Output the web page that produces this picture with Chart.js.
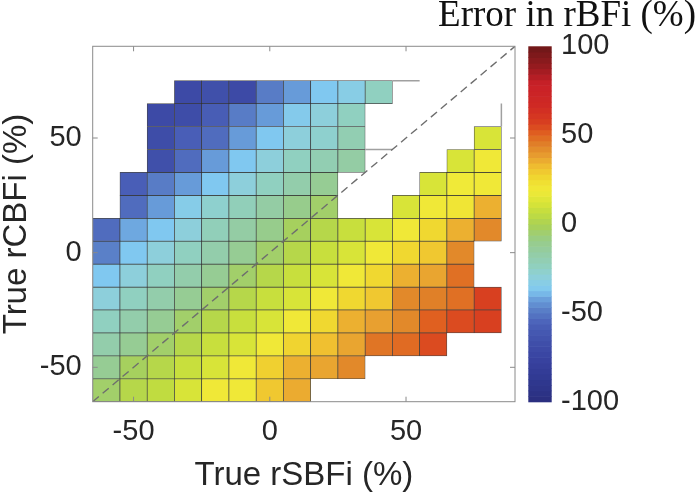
<!DOCTYPE html>
<html><head><meta charset="utf-8">
<script src="https://cdn.jsdelivr.net/npm/chart.js@4.4.1/dist/chart.umd.min.js"></script>
<style>html,body{margin:0;padding:0;background:#fff;}canvas{display:block;}</style>
</head><body>
<canvas id="c" width="696" height="495"></canvas>
<script>
// ---- data ----
const xCenters = [-60,-50,-40,-30,-20,-10,0,10,20,30,40,50,60,70,80];
const yCenters = [70,60,50,40,30,20,10,0,-10,-20,-30,-40,-50,-60];
const cellSize = 10;
// error in rBFi (%) per cell, one array per row (columns follow xCenters), null = no cell
const row70  = [null,null,null,-70,-66,-70,-49,-43,-37,-33,-24,null,null,null,null];
const row60  = [null,null,-70,-68,-58,-49,-43,-35,-30,-24,null,null,null,null,null];
const row50  = [null,null,-68,-57,-53,-43,-37,-30,-27,-20,null,null,null,null,12];
const row40  = [null,null,-66,-53,-43,-37,-30,-24,-20,-16,null,null,null,12,20];
const row30  = [null,-57,-49,-43,-37,-30,-24,-18,-12,null,null,null,12,19,20];
const row20  = [null,-53,-43,-34,-27,-22,-16,-10,-4,null,null,12,20,21,35];
const row10  = [-53,-41,-37,-30,-22,-16,-10,-2,3,8,12,20,26,35,43];
const row0   = [-48,-37,-30,-24,-18,-12,-4,3,8,12,20,26,30,43,null];
const rowM10 = [-37,-30,-24,-18,-12,-4,3,8,12,20,26,35,37,48,null];
const rowM20 = [-30,-24,-18,-12,-4,3,8,12,20,26,30,43,45,48,57];
const rowM30 = [-24,-18,-12,-4,3,8,12,20,26,35,38,43,51,55,57];
const rowM40 = [-18,-12,-4,3,8,12,20,27,32,37,47,49,55,null,null];
const rowM50 = [-12,-2,3,8,12,20,28,35,37,43,null,null,null,null,null];
const rowM60 = [-4,3,6,12,20,20,30,36,null,null,null,null,null,null,null];
const rows = [row70,row60,row50,row40,row30,row20,row10,row0,rowM10,rowM20,rowM30,rowM40,rowM50,rowM60];

const axisRange = [-65, 90];
const xTicks = [-50, 0, 50];
const yTicks = [-50, 0, 50];
const cbRange = [-100, 100];
const cbTicks = [-100, -50, 0, 50, 100];
const diagX = [-65, 90];
const diagY = [-65, 90];
const edgeSegX = [[45,55],[35,45],[85,85]];
const edgeSegY = [[75,75],[45,45],[55,65]];

const titleText = 'Error in rBFi (%)';
const xTitle = 'True rSBFi (%)';
const yTitle = 'True rCBFi (%)';

// colormap (value -> colour)
const cmapValues = [-100,-88,-76,-66,-56,-48,-42,-37,-31,-24,-16,-9,-1,6,12,19,25,32,38,45,51,57,66,79,90,100];
const cmapColors = ['#2a2e7e','#303890','#3842a0','#4050aa','#4a60b8','#5a80c8','#6aa0dc','#80c8f0','#8ccfe0','#90d0c0','#94cca4','#98cc88','#a8d058','#c0dc40','#d8e438','#f0ea38','#f0dc30','#f0c030','#e8a030','#e08028','#e06020','#d84020','#d02a24','#c82028','#901a1e','#6e1818'];

// ---- helpers ----
function hexToRgb(h){const n=parseInt(h.slice(1),16);return [(n>>16)&255,(n>>8)&255,n&255];}
const cmapRgb = cmapColors.map(hexToRgb);
function colorAt(v){
  if (v <= cmapValues[0]) return 'rgb('+cmapRgb[0].join(',')+')';
  for (let i=0;i<cmapValues.length-1;i++){
    if (v <= cmapValues[i+1]){
      const t=(v-cmapValues[i])/(cmapValues[i+1]-cmapValues[i]);
      const a=cmapRgb[i], b=cmapRgb[i+1];
      return 'rgb('+a.map((c,k)=>Math.round(c+(b[k]-c)*t)).join(',')+')';
    }
  }
  return 'rgb('+cmapRgb[cmapRgb.length-1].join(',')+')';
}

const datasets = [];
rows.forEach((row, r) => {
  const yc = yCenters[r];
  const pts = [];
  row.forEach((v, c) => {
    if (v === null) return;
    pts.push({x: xCenters[c], y: [yc - cellSize/2, yc + cellSize/2], v: v});
  });
  datasets.push({
    type: 'bar', data: pts, xAxisID: 'x', yAxisID: 'y', order: 2,
    grouped: false, barPercentage: 1, categoryPercentage: 1,
    backgroundColor: (ctx) => ctx.raw ? colorAt(ctx.raw.v) : 'transparent',
    borderColor: 'rgba(40,40,40,0.85)', borderWidth: 0.7, borderSkipped: false
  });
});
datasets.push({
  type: 'line', data: diagX.map((x,i)=>({x:x, y:diagY[i]})), xAxisID:'x', yAxisID:'y', order: 0,
  borderColor: '#6e6e6e', borderWidth: 1.4, borderDash: [8,5], pointRadius: 0, fill: false
});
edgeSegX.forEach((sx, i) => {
  datasets.push({
    type: 'line', data: sx.map((x,k)=>({x:x, y:edgeSegY[i][k]})), xAxisID:'x', yAxisID:'y', order: 1,
    borderColor: '#a0a0a0', borderWidth: 1.5, pointRadius: 0, fill: false
  });
});

const frameColor = '#8a8a8a';
const tickLen = 5;
const cbOffset = 13.3, cbWidth = 23.4;

const framePlugin = {
  id: 'frame',
  afterDraw(chart){
    const {ctx, chartArea: a, scales} = chart;
    ctx.save();
    ctx.strokeStyle = frameColor; ctx.lineWidth = 1;
    ctx.strokeRect(a.left, a.top, a.right - a.left, a.bottom - a.top);
    ctx.beginPath();
    xTicks.forEach(v => {
      const px = scales.x.getPixelForValue(v);
      ctx.moveTo(px, a.bottom); ctx.lineTo(px, a.bottom - tickLen);
      ctx.moveTo(px, a.top); ctx.lineTo(px, a.top + tickLen);
    });
    yTicks.forEach(v => {
      const py = scales.y.getPixelForValue(v);
      ctx.moveTo(a.left, py); ctx.lineTo(a.left + tickLen, py);
      ctx.moveTo(a.right, py); ctx.lineTo(a.right - tickLen, py);
    });
    ctx.stroke();
    // colour bar
    const cb = scales.cb;
    const x0 = a.right + cbOffset;
    const n = 64;
    for (let k = 0; k < n; k++){
      const v0 = cbRange[0] + (cbRange[1]-cbRange[0]) * k / n;
      const v1 = cbRange[0] + (cbRange[1]-cbRange[0]) * (k+1) / n;
      const p0 = cb.getPixelForValue(v0), p1 = cb.getPixelForValue(v1);
      ctx.fillStyle = colorAt((v0+v1)/2);
      ctx.fillRect(x0, p1, cbWidth, p0 - p1 + 0.6);
    }
    ctx.restore();
  }
};

const tickFont = {family: '"Liberation Sans", Arial, sans-serif', size: 29};
const vTickFont = {family: '"Liberation Sans", Arial, sans-serif', size: 29, lineHeight: 0.02};
const titleFont = {family: '"Liberation Sans", Arial, sans-serif', size: 33, lineHeight: 1};
const tickColor = '#262626';

new Chart(document.getElementById('c'), {
  type: 'bar',
  data: { datasets },
  plugins: [framePlugin],
  options: {
    responsive: false, animation: false, devicePixelRatio: 1,
    layout: { padding: 0 },
    plugins: {
      legend: { display: false }, tooltip: { enabled: false },
      title: {
        display: true, text: titleText, align: 'end', color: '#111',
        font: { family: '"Liberation Serif", "Times New Roman", serif', size: 37, weight: 'normal', lineHeight: 1 },
        padding: { top: -4, bottom: 12 }
      }
    },
    scales: {
      x: {
        type: 'linear', min: axisRange[0], max: axisRange[1], offset: false,
        grid: { display: false, drawTicks: false }, border: { display: false },
        afterBuildTicks: s => { s.ticks = xTicks.map(v => ({value: v})); },
        ticks: { font: tickFont, color: tickColor, padding: 13, maxRotation: 0, autoSkip: false },
        title: { display: true, text: xTitle, font: titleFont, color: tickColor, padding: { top: 0, bottom: 3 } },
        afterFit: s => { s.height = 93.3; }
      },
      y: {
        type: 'linear', min: axisRange[0], max: axisRange[1],
        grid: { display: false, drawTicks: false }, border: { display: false },
        afterBuildTicks: s => { s.ticks = yTicks.map(v => ({value: v})); },
        ticks: { font: vTickFont, color: tickColor, padding: 11, autoSkip: false },
        title: { display: true, text: yTitle, font: titleFont, color: tickColor, padding: { top: 0, bottom: 0 } },
        afterFit: s => { s.width = 92.7; }
      },
      cb: {
        type: 'linear', axis: 'y', position: 'right', min: cbRange[0], max: cbRange[1],
        grid: { display: false, drawTicks: false }, border: { display: false },
        afterBuildTicks: s => { s.ticks = cbTicks.map(v => ({value: v})); },
        ticks: { font: vTickFont, color: tickColor, padding: 46, autoSkip: false },
        afterFit: s => { s.width = 181; }
      }
    }
  }
});
</script>
</body></html>
